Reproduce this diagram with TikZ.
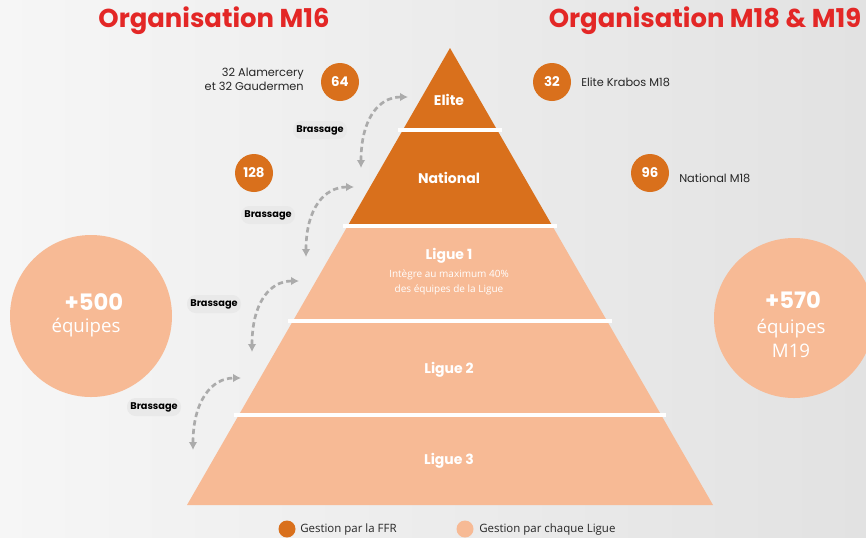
\documentclass[tikz,border=0pt]{standalone}
\usepackage{fontspec}
\setmainfont{Open Sans}
\newfontfamily\gothic{Poppins}
\usetikzlibrary{arrows.meta}
\definecolor{dark}{HTML}{D9701C}
\definecolor{light}{HTML}{F7BA95}
\definecolor{titlered}{HTML}{E32726}
\definecolor{bgl}{HTML}{F6F6F6}
\definecolor{bgr}{HTML}{E2E2E2}
\definecolor{pill}{HTML}{E9E9E9}
\definecolor{arr}{HTML}{ABABAB}
\tikzset{
  title/.style={text=titlered,font=\gothic\bfseries\fontsize{19.4}{22}\selectfont,inner sep=0pt},
  layer/.style={text=white,font=\gothic\bfseries\fontsize{10.5}{12}\selectfont,inner sep=0pt},
  badge/.style={circle,fill=dark,minimum size=28.5pt,inner sep=0pt,text=white,font=\gothic\bfseries\fontsize{10}{12}\selectfont},
  note/.style={font=\gothic\fontsize{8.5}{10.5}\selectfont,inner sep=0pt,text=black!85},
  pillbox/.style={rounded corners=6.5pt,fill=pill,minimum width=40.5pt,minimum height=13.5pt,inner sep=0pt,font=\gothic\bfseries\fontsize{7.3}{9}\selectfont},
  brass/.style={draw=arr,line width=2pt,dash pattern=on 4pt off 2.5pt,{Latex[length=6pt,width=6.5pt]}-{Latex[length=6pt,width=6.5pt]}},
  sep/.style={draw=white,line width=3pt},
  legendtxt/.style={font=\fontsize{8.6}{10}\selectfont,inner sep=0pt,anchor=west,text=black!85}
}
\begin{document}
\begin{tikzpicture}[x=0.75pt,y=-0.75pt]
\useasboundingbox (0,0) rectangle (866,537);
\shade[left color=bgl,right color=bgr] (0,0) rectangle (866,537);
% titles
\node[title] (t1) at (214,21) {Organisation M16};
\node[title] (t2) at (705,21) {Organisation M18 \& M19};
% pyramid
\fill[dark] (450,48) -- (552.4,226) -- (347.6,226) -- cycle;
\fill[light] (347.6,226) -- (552.4,226) -- (713,505) -- (187,505) -- cycle;
\draw[sep] (397.8,130) -- (502.2,130);
\draw[sep] (342.6,226) -- (557.4,226);
\draw[sep] (287.9,321) -- (612.1,321);
\draw[sep] (233.8,415) -- (666.2,415);
\node[layer] (elite) at (449,100) {Elite};
\node[layer] (nat) at (449,178) {National};
\node[layer] (l1) at (449,256) {Ligue 1};
\node[text=white,font=\fontsize{7.5}{11.2}\selectfont,align=center,inner sep=0pt] (l1s) at (449,282) {Intègre au maximum 40\%\\des équipes de la Ligue};
\node[layer] (l2) at (449,370) {Ligue 2};
\node[layer] (l3) at (449,461) {Ligue 3};
% badges
\node[badge] (b64) at (340,82) {64};
\node[badge] (b128) at (254,173) {128};
\node[badge] (b32) at (552,82) {32};
\node[badge] (b96) at (650,173) {96};
\node[note,anchor=east,align=right] (n64) at (304,79) {32 Alamercery\\et 32 Gaudermen};
\node[note,anchor=west] (n32) at (581,82) {Elite Krabos M18};
\node[note,anchor=west] (n96) at (679,178) {National M18};
% big circles
\fill[light] (91,316) circle (81);
\fill[light] (794,318) circle (80);
\node[text=white,font=\gothic\bfseries\fontsize{17}{20}\selectfont,inner sep=0pt] (c500) at (94,302) {+500};
\node[text=white,font=\fontsize{14}{16}\selectfont,inner sep=0pt] (c500b) at (86,328) {équipes};
\node[text=white,font=\gothic\bfseries\fontsize{17}{20}\selectfont,inner sep=0pt] (c570) at (793,300) {+570};
\node[text=white,font=\fontsize{14}{18}\selectfont,inner sep=0pt,align=center] (c570b) at (791,338) {équipes\\M19};
% brassage labels
\node[pillbox] (p1) at (320,130) {Brassage};
\node[pillbox] (p2) at (268,215) {Brassage};
\node[pillbox] (p3) at (214,304) {Brassage};
\node[pillbox] (p4) at (154,407) {Brassage};
% arrow ends
\coordinate (a1b) at (361,168); \coordinate (a1t) at (408,97);
\coordinate (a2b) at (306,257); \coordinate (a2t) at (354,187);
\coordinate (a3b) at (252,352); \coordinate (a3t) at (299,281);
\coordinate (a4b) at (193,450); \coordinate (a4t) at (241,378);
\draw[brass] (a1b) .. controls +(0,-48) and +(-30,0) .. (a1t);
\draw[brass] (a2b) .. controls +(0,-48) and +(-30,0) .. (a2t);
\draw[brass] (a3b) .. controls +(0,-48) and +(-30,0) .. (a3t);
\draw[brass] (a4b) .. controls +(0,-48) and +(-30,0) .. (a4t);
% legend
\fill[dark] (287,529) circle (8.5);
\node[legendtxt] (lg1) at (300,530) {Gestion par la FFR};
\fill[light] (465,529) circle (8.5);
\node[legendtxt] (lg2) at (479,530) {Gestion par chaque Ligue};
\end{tikzpicture}
\end{document}
